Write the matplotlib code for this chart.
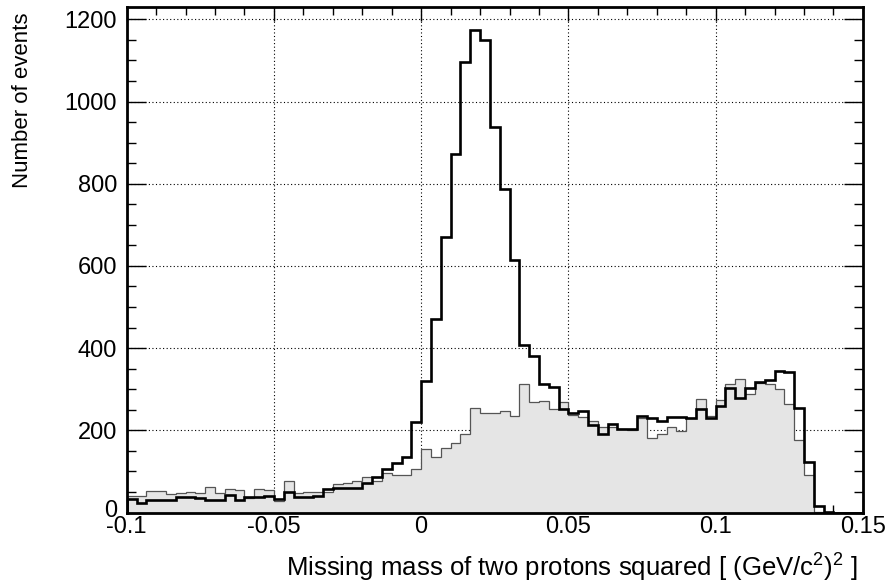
import matplotlib
matplotlib.use("Agg")
import matplotlib.pyplot as plt
import matplotlib.transforms as mtransforms
from matplotlib.ticker import MultipleLocator
import numpy as np

plt.rcParams['font.family'] = ['Liberation Sans', 'DejaVu Sans']
plt.rcParams['mathtext.default'] = 'regular'
plt.rcParams['axes.unicode_minus'] = False

# Histogram binning: 75 bins of missing mass squared
x_min, x_max, n_bins = -0.1, 0.15, 75

# All events (thick black outline)
all_events = [
    32, 24, 30, 30, 30, 37, 37, 36, 31, 31, 43, 30, 37, 38, 40,
    33, 49, 37, 37, 40, 56, 60, 59, 59, 71, 86, 105, 121, 136, 221,
    320, 470, 670, 872, 1096, 1173, 1150, 938, 788, 614, 408, 381, 313, 305, 251,
    241, 248, 213, 190, 215, 203, 203, 236, 229, 223, 232, 232, 229, 252,
    229, 259, 304, 278, 302, 318, 322, 344, 341, 254, 124, 16, 2, 0, 0, 0,
]

# Selected events (grey filled histogram)
selected_events = [
    40, 40, 53, 52, 45, 48, 51, 47, 63, 47, 56, 55, 36, 58, 55,
    29, 77, 48, 50, 51, 51, 69, 73, 77, 87, 77, 95, 91, 91, 106,
    155, 136, 158, 168, 191, 255, 243, 243, 247, 235, 312, 268, 272, 251, 270,
    237, 232, 223, 207, 209, 203, 201, 229, 182, 190, 209, 199, 229, 275,
    235, 274, 313, 324, 288, 316, 312, 300, 264, 176, 91, 2, 0, 0, 0, 0,
]

x_ticks = [-0.1, -0.05, 0, 0.05, 0.1, 0.15]
x_tick_labels = ['-0.1', '-0.05', '0', '0.05', '0.1', '0.15']
y_ticks = [0, 200, 400, 600, 800, 1000, 1200]
y_tick_labels = ['0', '200', '400', '600', '800', '1000', '1200']

edges = np.linspace(x_min, x_max, n_bins + 1)

fig = plt.figure(figsize=(8.86, 5.86), dpi=100)
ax = fig.add_axes([0.1430, 0.1254, 0.8309, 0.8631])

ax.stairs(selected_events, edges, fill=True, facecolor='#e5e5e5',
          edgecolor='none', zorder=1)
ax.stairs(selected_events, edges, color='#555555', linewidth=0.9, zorder=2)
ax.stairs(all_events, edges, color='black', linewidth=1.9, zorder=3)

ax.set_xlim(x_min, x_max)
ax.set_ylim(0, 1230.6)

ax.set_xticks(x_ticks)
ax.set_xticklabels(x_tick_labels)
ax.set_yticks(y_ticks)
ax.set_yticklabels(y_tick_labels)
ax.xaxis.set_minor_locator(MultipleLocator(0.01))
ax.yaxis.set_minor_locator(MultipleLocator(50))

ax.set_axisbelow(True)
ax.grid(True, which='major', color='black', linestyle=(0, (1, 2.2)),
        linewidth=0.8)

ax.tick_params(axis='both', which='both', direction='in', top=True,
               right=True, width=1.0, labelsize=17)
ax.tick_params(axis='y', which='major', length=13.5, pad=7)
ax.tick_params(axis='y', which='minor', length=6.5)
ax.tick_params(axis='x', which='major', length=10, pad=2.5)
ax.tick_params(axis='x', which='minor', length=5.5)

# lift the "0" on the y axis slightly so it sits above the x-axis "-0.1"
zero_label = ax.get_yticklabels()[0]
zero_label.set_transform(zero_label.get_transform() +
                         mtransforms.ScaledTranslation(0, 3 / 72,
                                                       fig.dpi_scale_trans))

for spine in ax.spines.values():
    spine.set_linewidth(2.0)

ax.set_xlabel('Missing mass of two protons squared [ (GeV/c$^{2}$)$^{2}$ ]',
              fontsize=18.5, loc='right')
ax.xaxis.label.set_verticalalignment('baseline')
ax.set_ylabel('Number of events', fontsize=16, loc='top')
ax.xaxis.set_label_coords((858 - 126.7) / 736.2, -(577 - 512.5) / 505.8)
ax.yaxis.set_label_coords((33 - 126.7) / 736.2, (512.5 - 12) / 505.8)

fig.savefig('out.png', dpi=100)
